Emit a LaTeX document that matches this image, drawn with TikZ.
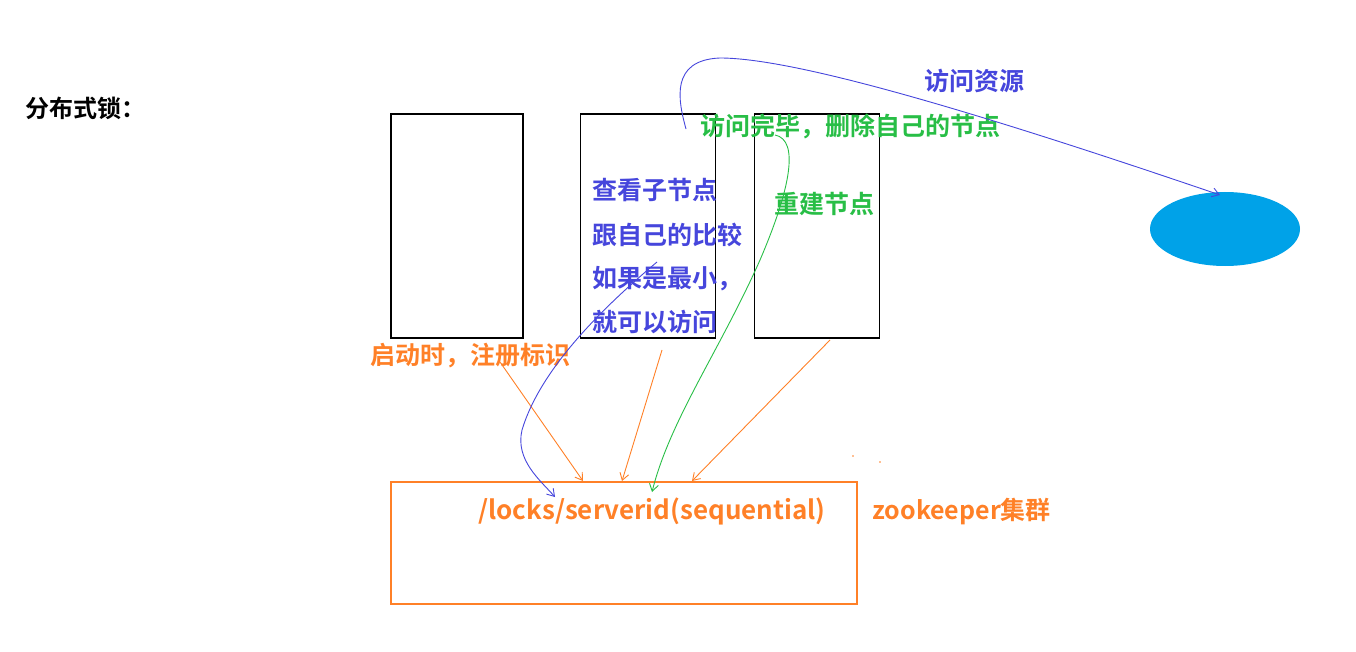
\documentclass[tikz,border=0pt]{standalone}
\usepackage{fontspec}
\newfontfamily\cjk{Noto Sans CJK SC}[BoldFont={Noto Sans CJK SC Bold}]
\usetikzlibrary{arrows.meta}
\definecolor{ora}{RGB}{255,128,39}
\definecolor{blu}{RGB}{70,70,220}
\definecolor{grn}{RGB}{40,190,70}
\definecolor{cyn}{RGB}{0,162,232}
\begin{document}
\begin{tikzpicture}[x=1pt,y=-1pt,
  box/.style={draw,line width=1.3pt,inner sep=0},
  lbl/.style={font=\cjk\bfseries\fontsize{25}{28}\selectfont,anchor=west,inner sep=0},
  arr/.style={line width=0.9pt,-{Straight Barb[length=7pt,width=9pt]}}]
\useasboundingbox (0,0) rectangle (1356,652);
\node[lbl,font=\cjk\bfseries\fontsize{24}{28}\selectfont] (title) at (25,108) {分布式锁：};
\node[box,minimum width=132pt,minimum height=224pt] (b1) at (457,226) {};
\node[box,minimum width=135pt,minimum height=224pt] (b2) at (648,226) {};
\node[box,minimum width=125pt,minimum height=224pt] (b3) at (817,226) {};
\node[draw=ora,line width=1.2pt,minimum width=466pt,minimum height=122pt,inner sep=0] (zk) at (624,543) {};
\fill[cyn] (1225,229) ellipse (75pt and 37pt);
\coordinate (res) at (1220,195);
\node[lbl,text=blu] (t1) at (592,190) {查看子节点};
\node[lbl,text=blu] (t2) at (592,235) {跟自己的比较};
\node[lbl,text=blu] (t3) at (592,279) {如果是最小，};
\node[lbl,text=blu] (t4) at (592,322) {就可以访问};
\node[lbl,text=grn] (g1) at (774,204) {重建节点};
\node[lbl,text=grn] (g2) at (700,126) {访问完毕，删除自己的节点};
\node[lbl,text=blu] (v) at (924,81) {访问资源};
\node[lbl,text=ora] (o1) at (370,356) {启动时，注册标识};
\node[lbl,text=ora,font=\cjk\bfseries\fontsize{26}{28}\selectfont] (seq) at (478,511) {/locks/serverid(sequential)};
\node[lbl,text=ora] (zkl) at (872,511) {zookeeper集群};
\coordinate (a1) at (583,481); \coordinate (a2) at (622,481);
\coordinate (a3) at (692,481); \coordinate (a4) at (652,492);
\coordinate (a5) at (555,497);
\draw[ora,arr] (500,362) -- (a1);
\draw[ora,arr] (662,350) -- (a2);
\draw[ora,arr] (830,340) -- (a3);
\draw[grn,arr] (775,135) .. controls (800,140) and (790,190) .. (760,260) .. controls (720,350) and (670,420) .. (a4);
\draw[blu,arr] (657,262) .. controls (600,310) and (540,370) .. (522,430) .. controls (515,460) and (540,480) .. (a5);
\draw[blu,arr] (686,129) .. controls (678,100) and (670,60) .. (720,58) .. controls (800,58) and (1000,120) .. (res);
\fill[ora] (853,456) circle (0.8pt) (880,462) circle (0.8pt);
\end{tikzpicture}
\end{document}
